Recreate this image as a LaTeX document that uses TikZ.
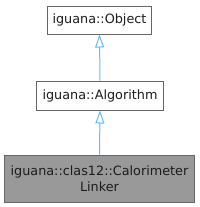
\documentclass[tikz,border=0pt]{standalone}
\usepackage{fontspec}
\setmainfont{DejaVu Sans}
\usetikzlibrary{arrows.meta}
\definecolor{edgeblue}{HTML}{63B8FF}
\definecolor{boxborder}{HTML}{666666}
\definecolor{curfill}{HTML}{999999}
\definecolor{txt}{HTML}{1C1C1C}
\begin{document}
\begin{tikzpicture}[x=1pt,y=-1pt,
  cls/.style={draw=boxborder, line width=1pt, text=txt, font=\fontsize{12.8}{15.5}\selectfont, inner sep=0pt, align=center},
  inh/.style={draw=edgeblue, line width=1pt, -{Triangle[open, length=13pt, width=9pt]}}]
\useasboundingbox (0,0) rectangle (200,207);
\node[cls, fill=white, minimum width=104pt, minimum height=28pt] (obj) at (99.5,20) {iguana::Object};
\node[cls, fill=white, minimum width=127pt, minimum height=29pt] (alg) at (100,95.5) {iguana::Algorithm};
\node[cls, fill=curfill, minimum width=190.5pt, minimum height=47pt] (cal) at (99.5,178.5) {iguana::clas12::Calorimeter\\Linker};
\draw[inh] (alg.north) -- (obj.south);
\draw[inh] (cal.north) -- (alg.south);
\end{tikzpicture}
\end{document}
